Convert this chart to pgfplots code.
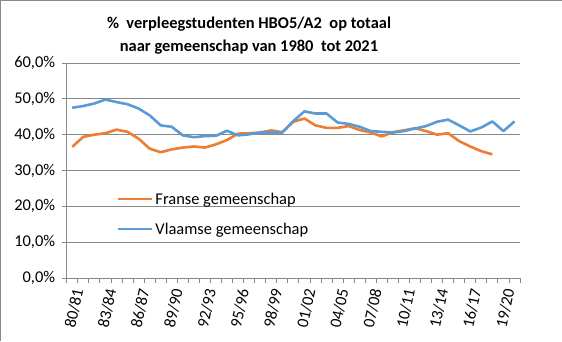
\documentclass[border=0pt]{standalone}
\usepackage{pgfplots}
\pgfplotsset{compat=1.18}
\usepackage{fontspec}
\setmainfont{Carlito}
\definecolor{cOrange}{HTML}{ED7D31}
\definecolor{cBlue}{HTML}{5B9BD5}
\definecolor{cGrid}{HTML}{888888}
\pgfplotstableread{
x fr vl
0 36.6 47.5
1 39.4 48.0
2 40.0 48.7
3 40.4 49.8
4 41.4 49.1
5 40.8 48.5
6 38.9 47.3
7 36.1 45.4
8 35.1 42.6
9 35.9 42.2
10 36.4 39.8
11 36.7 39.3
12 36.4 39.6
13 37.3 39.7
14 38.5 41.1
15 40.3 39.8
16 40.4 40.1
17 40.6 40.6
18 41.2 40.6
19 40.7 40.6
20 43.6 43.8
21 44.5 46.5
22 42.6 45.9
23 41.9 45.9
24 41.9 43.4
25 42.4 43.0
26 41.3 42.2
27 40.6 41.0
28 39.5 40.8
29 40.7 40.6
30 41.2 41.0
31 41.8 41.7
32 41.0 42.4
33 40.0 43.6
34 40.4 44.2
35 38.2 42.6
36 36.7 40.9
37 35.4 42.0
38 34.5 43.7
39 nan 41.0
40 nan 43.7
}\datatable
\begin{document}
\begin{tikzpicture}[x=1bp,y=1bp]
\useasboundingbox (-66.7,-63) rectangle (495.3,278);
\draw[cGrid,line width=1.2bp] (-66.7,-63) -- (-66.7,277.5) -- (495.3,277.5);
\node[font=\bfseries\fontsize{16.5}{18}\selectfont,anchor=base] at (182.3,250) {\%\ \ verpleegstudenten HBO5/A2 \ op totaal};
\node[font=\bfseries\fontsize{16.5}{18}\selectfont,anchor=base] at (182.3,227) {naar gemeenschap van 1980 \ tot 2021};
\begin{axis}[
  at={(0,0)}, anchor=south west,
  scale only axis, width=453.3bp, height=215bp,
  xmin=-0.5, xmax=40.5, ymin=0, ymax=60,
  ytick={0,10,...,60},
  yticklabel={\pgfmathprintnumber[fixed,fixed zerofill,precision=1,use comma]{\tick}\%},
  /pgf/number format/assume math mode=true,
  ymajorgrids, grid style={cGrid,line width=0.8bp},
  axis line style={cGrid,line width=0.8bp},
  axis x line*=bottom, axis y line*=left,
  tick style={cGrid,line width=0.8bp},
  major tick length=5bp,
  minor tick length=5bp,
  tick align=outside,
  xtick={0,3,...,39},
  xticklabels={80/81,83/84,86/87,89/90,92/93,95/96,98/99,01/02,04/05,07/08,10/11,13/14,16/17,19/20},
  major x tick style={draw=none},
  minor xtick={-0.5,0.5,...,40.5},
  xticklabel style={rotate=78,anchor=east,font=\fontsize{16.5}{18}\selectfont,xshift=-1bp,yshift=-7bp},
  yticklabel style={font=\fontsize{16.5}{18}\selectfont,xshift=-3bp},
  legend style={draw=none,fill=none,at={(0.105,0.415)},anchor=north west,
    font=\fontsize{16.5}{18}\selectfont,row sep=13bp,
    /tikz/every even column/.append style={column sep=2bp}},
  legend cell align=left,
  legend image code/.code={\draw[#1,line width=2bp] (0bp,0bp) -- (34bp,0bp);},
  clip=false,
]
\addplot[cOrange,line width=2.6bp,line join=round] table[x=x,y=fr]{\datatable};
\addlegendentry{Franse gemeenschap}
\addplot[cBlue,line width=2.6bp,line join=round] table[x=x,y=vl]{\datatable};
\addlegendentry{Vlaamse gemeenschap}
\end{axis}
\end{tikzpicture}
\end{document}
